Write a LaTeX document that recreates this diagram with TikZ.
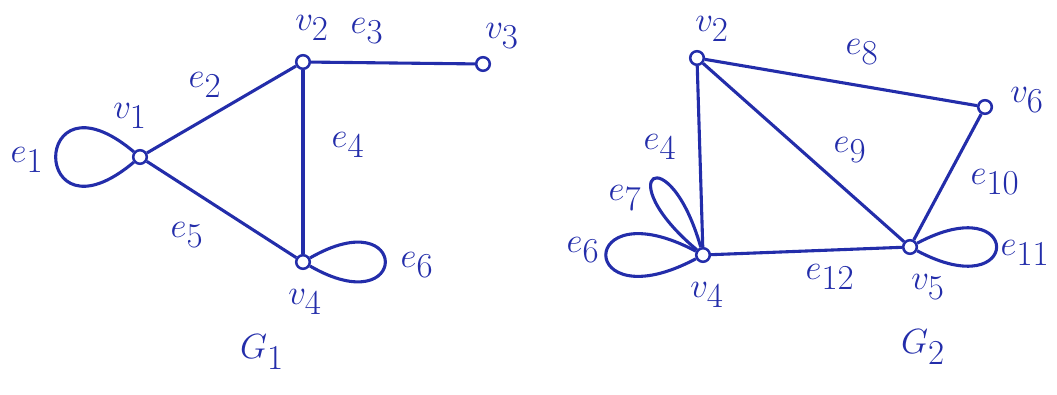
\documentclass[tikz,border=0pt]{standalone}
\usepackage{tikz}
\usetikzlibrary{arrows.meta,positioning,calc}
\definecolor{ink}{RGB}{35,45,170}

\begin{document}
\begin{tikzpicture}[x=0.025cm,y=0.025cm,line width=2.2pt,draw=ink,
 vert/.style={circle,draw=ink,line width=1.8pt,fill=white,inner sep=0pt,minimum size=0.34cm},
 lab/.style={text=ink,font=\fontsize{36}{40}\selectfont,inner sep=1pt}]
\useasboundingbox (0,0) rectangle (1057,394);
% G1
\node[vert] (a1) at (140,237) {};
\node[vert] (a2) at (303,332) {};
\node[vert] (a3) at (483,330) {};
\node[vert] (a4) at (303,132) {};
\draw (a1) -- (a2);
\draw (a2) -- (a3);
\draw (a2) -- (a4);
\draw (a1) -- (a4);
\draw (a1) to[out=140,in=220,min distance=3.4cm] (a1);
\draw (a4) to[out=30,in=-30,min distance=2.9cm] (a4);
\node[lab] (la1) at (130,278) {$v_1$};
\node[lab] (la2) at (312,366) {$v_2$};
\node[lab] (la3) at (502,358) {$v_3$};
\node[lab] (la4) at (305,92) {$v_4$};
\node[lab] (le1) at (27,234) {$e_1$};
\node[lab] (le2) at (205,309) {$e_2$};
\node[lab] (le3) at (367,363) {$e_3$};
\node[lab] (le4) at (348,249) {$e_4$};
\node[lab] (le5) at (187,159) {$e_5$};
\node[lab] (le6) at (417,129) {$e_6$};
\node[lab] (g1) at (262,42) {$G_1$};
% G2
\node[vert] (b2) at (697,336) {};
\node[vert] (b6) at (985,287) {};
\node[vert] (b4) at (703,139) {};
\node[vert] (b5) at (910,147) {};
\draw (b2) -- (b6);
\draw (b2) -- (b4);
\draw (b2) -- (b5);
\draw (b6) -- (b5);
\draw (b4) -- (b5);
\draw (b4) to[out=152,in=208,min distance=3.4cm] (b4);
\draw (b4) to[out=140,in=106,min distance=2.9cm] (b4);
\draw (b5) to[out=28,in=-28,min distance=3cm] (b5);
\node[lab] (lb2) at (712,365) {$v_2$};
\node[lab] (lb6) at (1027,294) {$v_6$};
\node[lab] (lb4) at (707,99) {$v_4$};
\node[lab] (lb5) at (928,107) {$v_5$};
\node[lab] (lf4) at (660,247) {$e_4$};
\node[lab] (lf6) at (583,144) {$e_6$};
\node[lab] (lf7) at (625,196) {$e_7$};
\node[lab] (lf8) at (862,342) {$e_8$};
\node[lab] (lf9) at (850,244) {$e_9$};
\node[lab] (lf10) at (995,212) {$e_{10}$};
\node[lab] (lf11) at (1025,141) {$e_{11}$};
\node[lab] (lf12) at (830,117) {$e_{12}$};
\node[lab] (g2) at (923,47) {$G_2$};
\end{tikzpicture}
\end{document}
